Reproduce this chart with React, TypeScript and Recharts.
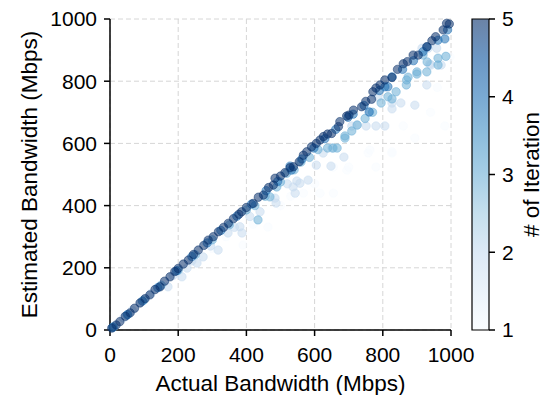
import {
  Bar,
  CartesianGrid,
  ComposedChart,
  Scatter,
  ScatterChart,
  XAxis,
  YAxis,
} from "recharts";

// [actual, estimated] in Mbps, one list per iteration
const iter1: [number, number][] = [
  [15, 14], [60, 58], [110, 107], [160, 150], [200, 180], [260, 230], [300, 262], [340, 300],
  [390, 273], [420, 340], [463, 331], [500, 400], [530, 430], [567, 440], [600, 470], [616, 440],
  [655, 440], [655, 524], [695, 514], [700, 524], [757, 569], [762, 579], [780, 524], [827, 569],
  [827, 573], [860, 656], [894, 617], [940, 700], [982, 656], [985, 878], [997, 878], [960, 780],
];

const iter2: [number, number][] = [
  [12, 12], [40, 39], [65, 63], [90, 88], [120, 117], [145, 140], [170, 139], [185, 175],
  [211, 171], [226, 199], [240, 222], [255, 215], [273, 235], [295, 270], [317, 257], [346, 312],
  [365, 330], [381, 332], [387, 312], [410, 365], [440, 380], [484, 424], [487, 408], [520, 470],
  [537, 460], [543, 440], [548, 479], [557, 472], [581, 482], [605, 530], [625, 569], [648, 527],
  [651, 585], [686, 556], [709, 656], [724, 659], [751, 656], [762, 701], [780, 656], [786, 749],
  [806, 656], [827, 711], [827, 730], [853, 730], [894, 723], [915, 906], [929, 788], [933, 906],
  [938, 855], [941, 852], [958, 906], [971, 852],
];

const iter3: [number, number][] = [
  [10, 10], [50, 48], [100, 97], [150, 144], [200, 192], [250, 242], [300, 290], [350, 338],
  [400, 386], [425, 400], [434, 354], [455, 430], [469, 428], [489, 460], [500, 476], [518, 504],
  [540, 515], [560, 540], [585, 555], [610, 580], [638, 585], [654, 585], [666, 585], [689, 624],
  [689, 617], [709, 640], [725, 659], [748, 680], [770, 700], [795, 730], [815, 750], [827, 743],
  [839, 766], [869, 788], [870, 804], [874, 813], [900, 823], [900, 830], [918, 884], [929, 830],
  [930, 862], [962, 852], [962, 874], [985, 880],
];

const iter4: [number, number][] = [
  [8, 8], [52, 50], [95, 93], [140, 136], [195, 190], [240, 236], [285, 280], [325, 320],
  [372, 366], [415, 405], [458, 448], [492, 478], [528, 527], [532, 514], [563, 550], [598, 585],
  [630, 615], [662, 645], [698, 684], [713, 694], [745, 722], [760, 701], [790, 770], [806, 782],
  [815, 782], [827, 814], [858, 838], [890, 866], [918, 895], [930, 910], [962, 932], [982, 936],
  [990, 965],
];

const iter5: [number, number][] = [
  [5, 6], [18, 16], [29, 27], [45, 44], [59, 55], [72, 70], [88, 87], [103, 101],
  [117, 113], [132, 130], [147, 139], [160, 157], [176, 171], [190, 188], [200, 198], [215, 212],
  [230, 225], [245, 243], [259, 257], [275, 272], [288, 289], [303, 300], [318, 316], [333, 330],
  [347, 343], [362, 358], [378, 372], [386, 380], [400, 394], [420, 407], [435, 427], [450, 434],
  [465, 458], [479, 466], [484, 488], [500, 495], [513, 506], [528, 522], [538, 525], [555, 541],
  [567, 562], [577, 573], [591, 589], [605, 600], [616, 611], [626, 622], [638, 630], [650, 632],
  [670, 654], [674, 670], [694, 688], [701, 691], [714, 707], [738, 718], [750, 735], [767, 742],
  [771, 766], [780, 778], [792, 788], [806, 804], [827, 812], [843, 838], [860, 856], [872, 863],
  [889, 884], [904, 884], [929, 911], [944, 930], [955, 943], [977, 965], [987, 986], [995, 984],
];

const axisTicks = [0, 200, 400, 600, 800, 1000];
const iterTicks = [1, 2, 3, 4, 5];

// matplotlib "Blues" sampled at the 5 iteration levels
const iterColors = ["#f7fbff", "#c6dbef", "#6baed6", "#2171b5", "#08306b"];
const bluesStops = [
  "#f7fbff", "#deebf7", "#c6dbef", "#9ecae1", "#6baed6",
  "#4292c6", "#2171b5", "#08519c", "#08306b",
];

const series = [iter1, iter2, iter3, iter4, iter5];
const colorbarData = [{ name: "cb", range: [1, 5] }];

const FONT = "'Liberation Sans', Arial, sans-serif";
const tickStyle = { fontSize: 21, fill: "#000", fontFamily: FONT };
const titleStyle = { fontSize: 22.5, fill: "#000", fontFamily: FONT };
const axisLine = { stroke: "#000", strokeWidth: 1.5 };
const tickLine = { stroke: "#000", strokeWidth: 1.5 };

function dot(color: string) {
  return (p: any) => (
    <circle
      cx={p.cx}
      cy={p.cy}
      r={4.2}
      fill={color}
      fillOpacity={0.55}
      stroke={color}
      strokeOpacity={0.55}
      strokeWidth={0.9}
    />
  );
}

export default function App() {
  return (
    <div
      style={{
        position: "absolute",
        left: 0,
        top: 0,
        width: 548,
        height: 395,
        background: "#fff",
        fontFamily: FONT,
      }}
    >
      <div style={{ position: "absolute", left: 0, top: 0 }}>
        <ScatterChart width={548} height={395} margin={{ top: 19, right: 97, left: 0, bottom: 0 }}>
          <CartesianGrid stroke="#d6d6d6" strokeDasharray="5 3" strokeWidth={1} />
          <XAxis
            type="number"
            dataKey="x"
            domain={[0, 1000]}
            ticks={axisTicks}
            height={65}
            tick={tickStyle}
            tickSize={6}
            tickMargin={11}
            axisLine={axisLine}
            tickLine={tickLine}
            label={{
              value: "Actual Bandwidth (Mbps)",
              position: "center",
              dy: 21,
              style: titleStyle,
            }}
          />
          <XAxis
            xAxisId="top"
            orientation="top"
            type="number"
            domain={[0, 1000]}
            height={0}
            tick={false}
            tickLine={false}
            axisLine={axisLine}
          />
          <YAxis
            type="number"
            dataKey="y"
            domain={[0, 1000]}
            ticks={axisTicks}
            width={110}
            tick={tickStyle}
            tickSize={6}
            tickMargin={7}
            axisLine={axisLine}
            tickLine={tickLine}
            label={{
              value: "Estimated Bandwidth (Mbps)",
              angle: -90,
              position: "center",
              dx: -26,
              style: titleStyle,
            }}
          />
          <YAxis
            yAxisId="right"
            orientation="right"
            type="number"
            domain={[0, 1000]}
            width={0}
            tick={false}
            tickLine={false}
            axisLine={axisLine}
          />
          {series.map((pts, i) => (
            <Scatter
              key={i}
              data={pts.map(([x, y]) => ({ x, y }))}
              shape={dot(iterColors[i])}
              isAnimationActive={false}
            />
          ))}
        </ScatterChart>
      </div>
      <div style={{ position: "absolute", left: 460, top: 0 }}>
        <ComposedChart
          width={88}
          height={395}
          data={colorbarData}
          margin={{ top: 19, right: 0, left: 12, bottom: 65 }}
          barCategoryGap={0}
        >
          <defs>
            <linearGradient id="cbGrad" x1="0" y1="1" x2="0" y2="0">
              {bluesStops.map((c, i) => (
                <stop key={c} offset={`${(i / (bluesStops.length - 1)) * 100}%`} stopColor={c} stopOpacity={0.6} />
              ))}
            </linearGradient>
          </defs>
          <XAxis dataKey="name" hide />
          <YAxis
            orientation="right"
            type="number"
            domain={[1, 5]}
            ticks={iterTicks}
            width={59}
            tick={tickStyle}
            tickSize={6}
            tickMargin={7}
            axisLine={false}
            tickLine={tickLine}
            label={{
              value: "# of Iteration",
              angle: -90,
              position: "center",
              dx: 13,
              style: titleStyle,
            }}
          />
          <Bar dataKey="range" fill="url(#cbGrad)" stroke="#000" strokeWidth={1.2} isAnimationActive={false} />
        </ComposedChart>
      </div>
    </div>
  );
}
